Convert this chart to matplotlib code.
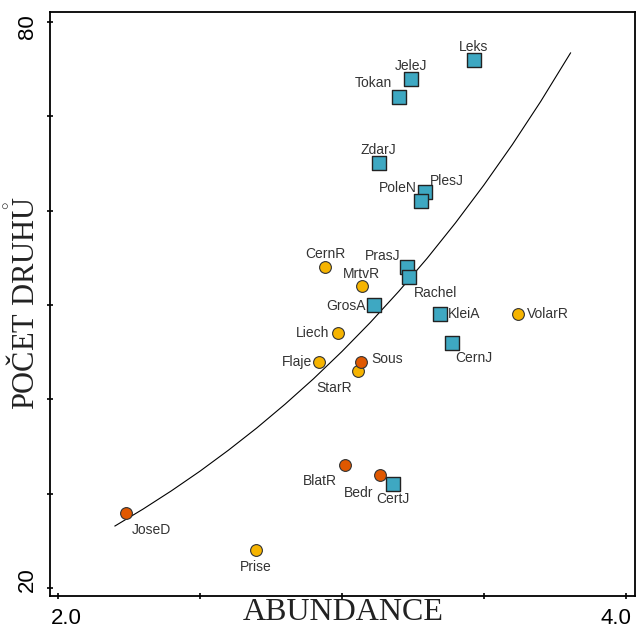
import matplotlib
matplotlib.use('Agg')
import matplotlib.pyplot as plt
from matplotlib.transforms import ScaledTranslation

plt.rcParams['mathtext.fontset'] = 'custom'
plt.rcParams['mathtext.rm'] = 'Liberation Serif'

# lokality - ctverce (modre)
sq_names = ['Leks', 'JeleJ', 'Tokan', 'ZdarJ', 'PlesJ', 'PoleN', 'PrasJ', 'Rachel', 'GrosA', 'KleiA', 'CernJ', 'CertJ']
sq_x = [3.464, 3.243, 3.200, 3.129, 3.292, 3.277, 3.228, 3.235, 3.113, 3.345, 3.386, 3.181]
sq_y = [76, 74, 72, 65, 62, 61, 54, 53, 50, 49, 46, 31]

# zlute kruhy
yl_names = ['CernR', 'MrtvR', 'VolarR', 'Liech', 'Flaje', 'StarR', 'Prise']
yl_x = [2.940, 3.069, 3.621, 2.987, 2.920, 3.055, 2.697]
yl_y = [54, 52, 49, 47, 44, 43, 24]

# oranzove kruhy
or_names = ['Sous', 'BlatR', 'Bedr', 'JoseD']
or_x = [3.067, 3.011, 3.134, 2.238]
or_y = [44, 33, 32, 28]

# prolozena krivka (vyhlazena)
fit_x = [2.2007, 2.30, 2.40, 2.50, 2.60, 2.70, 2.80, 2.90, 3.00,
         3.10, 3.20, 3.30, 3.40, 3.50, 3.60, 3.70, 3.805]
fit_y = [26.57, 28.37, 30.31, 32.38, 34.60, 36.96, 39.49, 42.18, 45.07,
         48.15, 51.44, 54.95, 58.71, 62.72, 67.00, 71.58, 76.72]

# posun popisku v pixelech (dx, dy, ha)
label_pos = {
    'Leks': (0, 13, 'center'), 'JeleJ': (0, 13, 'center'), 'Tokan': (-7, 14, 'right'),
    'ZdarJ': (0, 13, 'center'), 'PlesJ': (5, 11, 'left'), 'PoleN': (-4, 13, 'right'),
    'PrasJ': (-6, 11, 'right'), 'Rachel': (5, -16, 'left'), 'GrosA': (-8, -1, 'right'),
    'KleiA': (8, 0, 'left'), 'CernJ': (4, -15, 'left'), 'CertJ': (0, -15, 'center'),
    'CernR': (0, 13, 'center'), 'MrtvR': (0, 12, 'center'), 'VolarR': (9, 0, 'left'),
    'Liech': (-9, 0, 'right'), 'Flaje': (-7, 0, 'right'), 'StarR': (-6, -17, 'right'),
    'Prise': (0, -17, 'center'), 'Sous': (10, 3, 'left'), 'BlatR': (-8, -16, 'right'),
    'Bedr': (-7, -18, 'right'), 'JoseD': (6, -17, 'left'),
}

fig = plt.figure(figsize=(6.37, 6.29), dpi=100)
ax = fig.add_axes([50 / 637, 33 / 629, 585 / 637, 584 / 629])

ax.plot(fit_x, fit_y, color='black', linewidth=0.8, zorder=1)

ax.scatter(sq_x, sq_y, marker='s', s=95, c='#3ea8c2', edgecolors='#222222', linewidths=1.0, zorder=3)
ax.scatter(yl_x, yl_y, marker='o', s=72, c='#f6b400', edgecolors='#333333', linewidths=0.8, zorder=3)
ax.scatter(or_x, or_y, marker='o', s=72, c='#e05800', edgecolors='#333333', linewidths=0.8, zorder=3)

for names, xs, ys in [(sq_names, sq_x, sq_y), (yl_names, yl_x, yl_y), (or_names, or_x, or_y)]:
    for n, x, y in zip(names, xs, ys):
        dx, dy, ha = label_pos[n]
        ax.annotate(n, (x, y), xytext=(dx * 0.72, dy * 0.72), textcoords='offset points',
                    ha=ha, va='center', fontsize=10, family='Liberation Sans', color='#333333', zorder=4)

ax.set_xlim(1.972, 4.032)
ax.set_ylim(19.15, 81.06)

ax.set_xticks([2.0, 2.5, 3.0, 3.5, 4.0])
ax.set_xticklabels(['2.0', '', '', '', '4.0'])
ax.set_yticks([20, 30, 40, 50, 60, 70, 80])
ax.set_yticklabels(['20', '', '', '', '', '', '80'], rotation=90, va='center')
ax.tick_params(direction='inout', length=5, width=1.2, labelsize=16, colors='black')
ax.tick_params(axis='x', pad=6)
ax.tick_params(axis='y', pad=6)
for lab in ax.get_xticklabels() + ax.get_yticklabels():
    lab.set_family('Liberation Sans')

# popisky krajnich ticku posunute dovnitr
xl = ax.get_xticklabels()
xl[0].set_transform(xl[0].get_transform() + ScaledTranslation(8 / 100, 0, fig.dpi_scale_trans))
xl[-1].set_transform(xl[-1].get_transform() + ScaledTranslation(-10 / 100, 0, fig.dpi_scale_trans))
yl = ax.get_yticklabels()
yl[0].set_transform(yl[0].get_transform() + ScaledTranslation(0, 8 / 100, fig.dpi_scale_trans))
yl[-1].set_transform(yl[-1].get_transform() + ScaledTranslation(0, -5 / 100, fig.dpi_scale_trans))

for sp in ax.spines.values():
    sp.set_linewidth(1.3)

fig.text(343 / 637, 1 - 612 / 629, 'ABUNDANCE', ha='center', va='center',
         fontsize=23, family='Liberation Serif', color='#222222')
fig.text(25 / 637, 1 - 303 / 629, 'PO\u010cET DRUH$\\mathring{\\mathrm{U}}$', ha='center', va='center',
         rotation=90, fontsize=22, family='Liberation Serif', color='#222222')

fig.savefig('out.png', dpi=100)
